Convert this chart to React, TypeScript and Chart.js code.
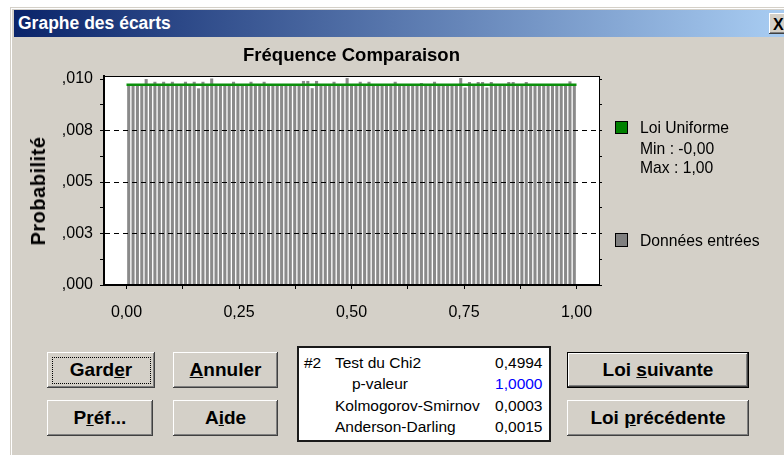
import React, { useEffect, useRef } from "react";
import { Chart, registerables } from "chart.js";

Chart.register(...registerables);

// ---- data ----
const barValues = [
  0.00971, 0.00974, 0.00969, 0.00972, 0.01000, 0.00970, 0.00987, 0.00973, 0.00987, 0.00968,
  0.00987, 0.00972, 0.00970, 0.00987, 0.00974, 0.00987, 0.00955, 0.00987, 0.00971, 0.01003,
  0.00969, 0.00973, 0.00970, 0.00972, 0.00987, 0.00971, 0.00968, 0.00974, 0.00987, 0.00970,
  0.00972, 0.00987, 0.00969, 0.00973, 0.00971, 0.00970, 0.00974, 0.00968, 0.00972, 0.00971,
  0.00991, 0.00991, 0.00956, 0.00991, 0.00970, 0.00973, 0.00969, 0.00987, 0.00972, 0.00970,
  0.01005, 0.00971, 0.00974, 0.00987, 0.00969, 0.00987, 0.00972, 0.00970, 0.00973, 0.00968,
  0.00971, 0.00987, 0.00970, 0.00974, 0.00972, 0.00969, 0.00971, 0.00981, 0.00973, 0.00970,
  0.00987, 0.00972, 0.00968, 0.00971, 0.00974, 0.00970, 0.01005, 0.00959, 0.00986, 0.00972,
  0.00986, 0.00986, 0.00959, 0.00986, 0.00970, 0.00973, 0.00969, 0.00986, 0.00986, 0.00971,
  0.00972, 0.00986, 0.00970, 0.00974, 0.00968, 0.00971, 0.00973, 0.00970, 0.00972, 0.00969,
  0.00971, 0.00989, 0.00970,
];
const uniformX = [0, 1];
const uniformY = [0.00973, 0.00973];
const xTickValues = [0, 0.125, 0.25, 0.375, 0.5, 0.625, 0.75, 0.875, 1];
const xTickLabels = ["0,00", "0,25", "0,50", "0,75", "1,00"];
const yTickValues = [0, 0.00125, 0.0025, 0.00375, 0.005, 0.00625, 0.0075, 0.00875, 0.01];
const yTickLabels = [",000", ",003", ",005", ",008", ",010"];
const seriesNames = ["Loi Uniforme", "Données entrées"];
const uniformParams = ["Min : -0,00", "Max : 1,00"];
const statNames = ["Test du Chi2", "p-valeur", "Kolmogorov-Smirnov", "Anderson-Darling"];
const statValues = ["0,4994", "1,0000", "0,0003", "0,0015"];

const FONT = "'Liberation Sans', Arial, Helvetica, sans-serif";
const GREEN = "#0a8f0a";
const BAR_GRAY = "#8a8a8a";
const FACE = "#d4d0c8";

function Txt(props: any) {
  const { x, b, size, bold, color, align, children } = props;
  const style: any = {
    position: "absolute",
    top: b - 0.8465 * size,
    fontSize: size,
    lineHeight: `${size}px`,
    fontWeight: bold ? "bold" : "normal",
    color: color || "#000",
    whiteSpace: "nowrap",
  };
  if (align === "right") style.right = 784 - x;
  else style.left = x;
  return <div style={style}>{children}</div>;
}

function Btn(props: any) {
  const { x, y, w, h, def, focus, children } = props;
  return (
    <div
      style={{
        position: "absolute",
        left: x,
        top: y,
        width: w,
        height: h,
        boxSizing: "border-box",
        background: FACE,
        border: def ? "1px solid #000" : "none",
        boxShadow:
          "inset -1px -1px #404040, inset 1px 1px #ffffff, inset -2px -2px #808080, inset 2px 2px " + FACE,
        display: "flex",
        alignItems: "center",
        justifyContent: "center",
        fontWeight: "bold",
        fontSize: 19,
        color: "#000",
      }}
    >
      {focus && (
        <div
          style={{ position: "absolute", left: 5, top: 5, right: 4, bottom: 4, border: "1px dotted #000" }}
        />
      )}
      <span style={{ position: "relative" }}>{children}</span>
    </div>
  );
}

const plotBackground = {
  id: "plotBackground",
  beforeDraw(chart: any) {
    const { ctx, chartArea } = chart;
    if (!chartArea) return;
    ctx.save();
    ctx.fillStyle = "#ffffff";
    ctx.fillRect(chartArea.left, chartArea.top, chartArea.right - chartArea.left, chartArea.bottom - chartArea.top);
    ctx.restore();
  },
};

export default function App() {
  const ref = useRef<HTMLCanvasElement>(null);

  useEffect(() => {
    if (!ref.current) return;
    Chart.defaults.font.family = FONT;
    const binWidth = (uniformX[1] - uniformX[0]) / barValues.length;
    const chart = new Chart(ref.current, {
      type: "bar",
      plugins: [plotBackground],
      data: {
        datasets: [
          {
            type: "line",
            label: seriesNames[0],
            data: uniformX.map((x, i) => ({ x, y: uniformY[i] })),
            borderColor: GREEN,
            backgroundColor: GREEN,
            borderWidth: 2.5,
            pointRadius: 0,
            order: 0,
            xAxisID: "x",
            yAxisID: "y",
          } as any,
          {
            type: "bar",
            label: seriesNames[1],
            data: barValues.map((v, i) => ({ x: uniformX[0] + (i + 0.5) * binWidth, y: v })),
            backgroundColor: BAR_GRAY,
            borderWidth: 0,
            barPercentage: 0.7,
            categoryPercentage: 1,
            order: 1,
            xAxisID: "x",
            yAxisID: "y",
          } as any,
        ],
      },
      options: {
        animation: false,
        responsive: false,
        devicePixelRatio: 1,
        layout: { padding: { left: 0, right: 182, top: 0, bottom: 0 } },
        plugins: {
          legend: { display: false },
          tooltip: { enabled: false },
          title: {
            display: true,
            text: "Fréquence Comparaison",
            fullSize: false,
            color: "#000",
            font: { family: FONT, size: 18.5, weight: "bold" },
            padding: { top: 4.7, bottom: 9.1 },
          },
        },
        scales: {
          x: {
            type: "linear",
            position: "bottom",
            min: -0.05,
            max: 1.05,
            offset: false,
            afterBuildTicks: (s: any) => {
              s.ticks = xTickValues.map((value) => ({ value }));
            },
            afterFit: (s: any) => {
              s.height = 55;
            },
            ticks: {
              autoSkip: false,
              maxRotation: 0,
              padding: 14,
              color: "#000",
              font: { family: FONT, size: 16 },
              callback: (_v: any, i: number) => (i % 2 === 0 ? xTickLabels[i / 2] : ""),
            },
            grid: {
              offset: false,
              drawOnChartArea: false,
              drawTicks: true,
              tickLength: 4,
              color: "#000",
              tickColor: "#000",
            },
            border: { display: true, color: "#000", width: 2, z: 1 },
          } as any,
          x2: {
            type: "linear",
            position: "top",
            min: -0.05,
            max: 1.05,
            offset: false,
            ticks: { display: false },
            grid: { display: false, drawTicks: false },
            border: { display: true, color: "#000", width: 1, z: 1 },
            afterFit: (s: any) => {
              s.height = 0;
            },
          } as any,
          y: {
            type: "linear",
            position: "left",
            min: 0,
            max: 0.01015,
            afterBuildTicks: (s: any) => {
              s.ticks = yTickValues.map((value) => ({ value }));
            },
            afterFit: (s: any) => {
              s.width = 104;
            },
            ticks: {
              autoSkip: false,
              padding: 7,
              color: "#000",
              font: { family: FONT, size: 16 },
              callback: (_v: any, i: number) => (i % 2 === 0 ? yTickLabels[i / 2] : ""),
            },
            grid: {
              z: 1,
              drawOnChartArea: true,
              drawTicks: true,
              tickLength: 4,
              lineWidth: 1,
              color: (c: any) =>
                c.index % 2 === 0 && c.index > 0 && c.index < yTickValues.length - 1
                  ? "#000"
                  : "rgba(0,0,0,0)",
              tickColor: "#000",
            },
            border: { display: true, color: "#000", width: 2, dash: [5, 4], z: 1 },
          } as any,
          y2: {
            type: "linear",
            position: "right",
            min: 0,
            max: 0.01015,
            afterBuildTicks: (s: any) => {
              s.ticks = yTickValues.map((value) => ({ value }));
            },
            afterFit: (s: any) => {
              s.width = 3;
            },
            ticks: { display: false },
            grid: { drawOnChartArea: false, drawTicks: true, tickLength: 3, color: "#000", tickColor: "#000" },
            border: { display: true, color: "#000", width: 1, z: 1 },
          } as any,
        },
      },
    });
    return () => chart.destroy();
  }, []);

  const rowBase = [368.3, 389.5, 411, 432];

  return (
    <div
      style={{
        position: "fixed",
        left: 0,
        top: 0,
        width: 784,
        height: 455,
        overflow: "hidden",
        background: "#ffffff",
        fontFamily: FONT,
      }}
    >
      {/* window */}
      <div
        style={{
          position: "absolute",
          left: 10,
          top: 7,
          width: 800,
          height: 470,
          background: FACE,
          boxShadow: "inset 1px 1px " + FACE + ", inset 2px 2px #ffffff",
        }}
      />
      {/* title bar */}
      <div
        style={{
          position: "absolute",
          left: 14,
          top: 10,
          width: 790,
          height: 27,
          background: "linear-gradient(to right, #0a246a, #a6caf0 96%)",
        }}
      />
      <Txt x={18} b={30} size={17.5} bold color="#ffffff">
        Graphe des écarts
      </Txt>
      <div
        style={{
          position: "absolute",
          left: 769,
          top: 13,
          width: 24,
          height: 21,
          boxSizing: "border-box",
          background: FACE,
          boxShadow: "inset -1px -1px #404040, inset 1px 1px #ffffff, inset -2px -2px #808080",
        }}
      />
      <Txt x={773} b={31} size={16} bold>
        X
      </Txt>

      {/* chart */}
      <canvas
        ref={ref}
        width={784}
        height={300}
        style={{ position: "absolute", left: 0, top: 40, width: 784, height: 300 }}
      />

      {/* y axis title */}
      <div
        style={{
          position: "absolute",
          left: 37.5,
          top: 191,
          transform: "translate(-50%, -50%) rotate(-90deg)",
          fontWeight: "bold",
          fontSize: 20,
          lineHeight: "20px",
          letterSpacing: "0.5px",
          whiteSpace: "nowrap",
          color: "#000",
        }}
      >
        Probabilité
      </div>

      {/* legend */}
      <div
        style={{
          position: "absolute",
          left: 615,
          top: 121,
          width: 13,
          height: 13,
          boxSizing: "border-box",
          background: "#008000",
          border: "1px solid #000",
        }}
      />
      <Txt x={640} b={133.3} size={15.7}>
        {seriesNames[0]}
      </Txt>
      <Txt x={640} b={154.3} size={15.7}>
        {uniformParams[0]}
      </Txt>
      <Txt x={640} b={173.3} size={15.7}>
        {uniformParams[1]}
      </Txt>
      <div
        style={{
          position: "absolute",
          left: 615,
          top: 233,
          width: 13,
          height: 14,
          boxSizing: "border-box",
          background: "#808080",
          border: "1px solid #000",
        }}
      />
      <Txt x={640} b={246.7} size={15.7}>
        {seriesNames[1]}
      </Txt>

      {/* buttons */}
      <Btn x={47} y={352} w={108} h={36} focus>
        Gard<u>e</u>r
      </Btn>
      <Btn x={173} y={352} w={105} h={36}>
        <u>A</u>nnuler
      </Btn>
      <Btn x={47} y={400} w={106} h={36}>
        P<u>r</u>éf...
      </Btn>
      <Btn x={173} y={400} w={105} h={36}>
        A<u>i</u>de
      </Btn>
      <Btn x={567} y={352} w={182} h={36} def>
        Loi <u>s</u>uivante
      </Btn>
      <Btn x={567} y={400} w={182} h={36}>
        Loi <u>p</u>récédente
      </Btn>

      {/* stats box */}
      <div
        style={{
          position: "absolute",
          left: 297,
          top: 346,
          width: 254,
          height: 96,
          boxSizing: "border-box",
          background: "#ffffff",
          border: "2px solid #1a1a1a",
        }}
      />
      <Txt x={304} b={rowBase[0]} size={15.5}>
        #2
      </Txt>
      {statNames.map((n, i) => (
        <Txt key={"n" + i} x={i === 1 ? 352 : 335} b={rowBase[i]} size={15.5}>
          {n}
        </Txt>
      ))}
      {statValues.map((v, i) => (
        <Txt key={"v" + i} x={542.5} b={rowBase[i]} size={15.5} align="right" color={i === 1 ? "#0000ff" : "#000"}>
          {v}
        </Txt>
      ))}
    </div>
  );
}
